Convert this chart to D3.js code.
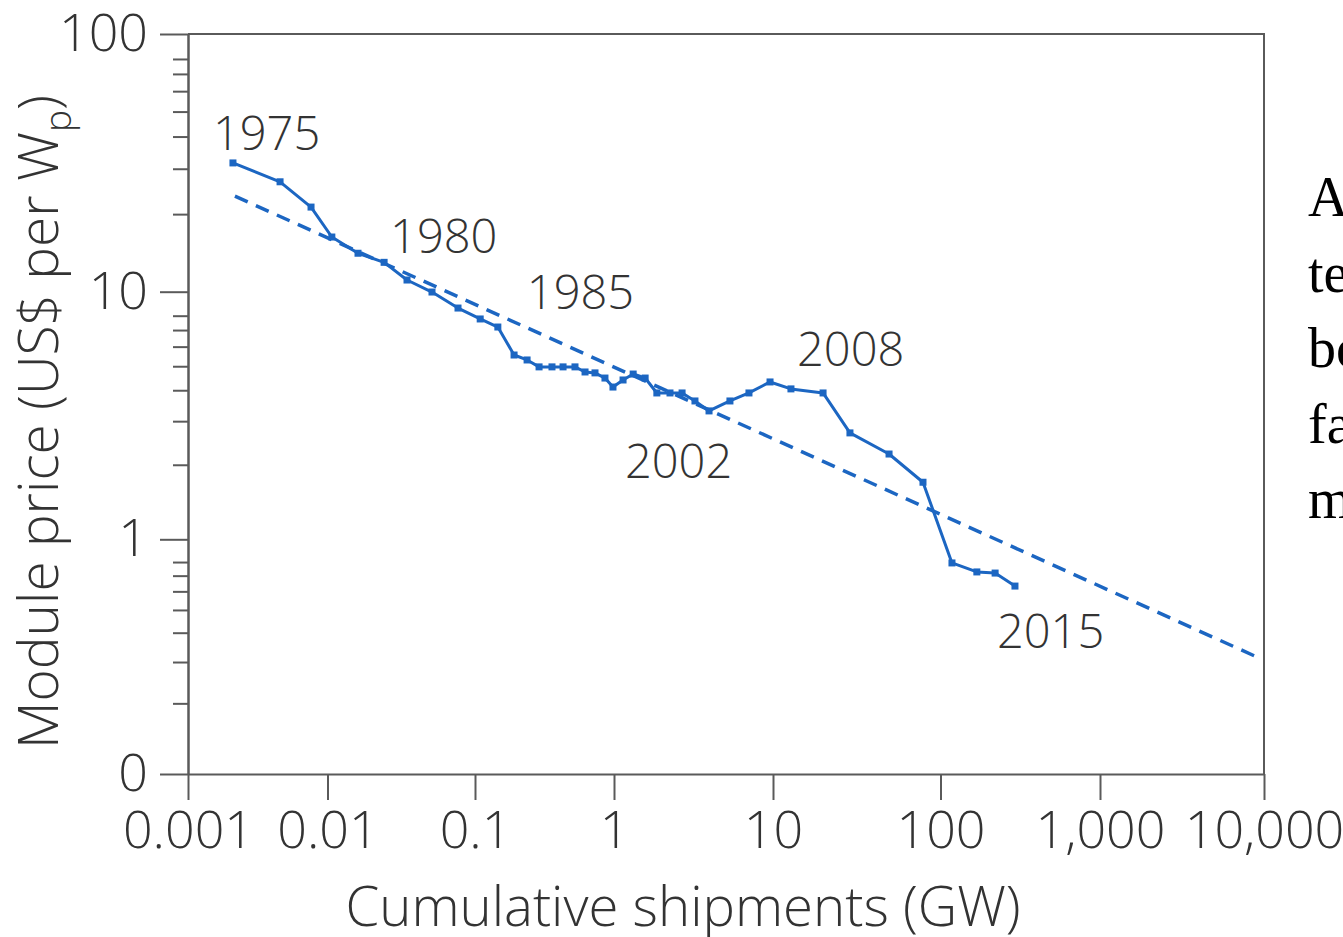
<!DOCTYPE html>
<html>
<head>
<meta charset="utf-8">
<script src="https://cdn.jsdelivr.net/npm/d3@7"></script>
<style>
  body { margin: 0; background: #fff; overflow: hidden; }
  svg { display: block; }
  .sans { font-family: "Open Sans", "Noto Sans", sans-serif; font-weight: 300; fill: #333; }
</style>
</head>
<body>
<svg id="chart" width="1343" height="937"></svg>
<script>
// Module price learning curve, 1975–2015
const years = [1975, 1976, 1977, 1978, 1979, 1980, 1981, 1982, 1983, 1984,
               1985, 1986, 1987, 1988, 1989, 1990, 1991, 1992, 1993, 1994,
               1995, 1996, 1997, 1998, 1999, 2000, 2001, 2002, 2003, 2004,
               2005, 2006, 2007, 2008, 2009, 2010, 2011, 2012, 2013, 2014, 2015];
// cumulative shipments, GW
const shipments = [0.0021, 0.00457, 0.00762, 0.0107, 0.0161, 0.0242, 0.0346, 0.0511, 0.0767, 0.109,
                   0.146, 0.191, 0.237, 0.289, 0.358, 0.43, 0.524, 0.619, 0.73, 0.861,
                   0.983, 1.14, 1.32, 1.57, 1.86, 2.25, 2.68, 3.23, 3.96, 5.36,
                   7.06, 9.58, 12.8, 19.9, 28.8, 49.3, 78.6, 118, 169, 220, 293];
// module price, US$ per Wp
const price = [31.6, 26.7, 21.3, 16.3, 14.1, 13.0, 11.1, 9.97, 8.59, 7.76,
               7.20, 5.55, 5.30, 4.97, 4.97, 4.97, 4.97, 4.74, 4.70, 4.48,
               4.12, 4.40, 4.65, 4.48, 3.90, 3.90, 3.90, 3.62, 3.30, 3.62,
               3.90, 4.32, 4.05, 3.90, 2.69, 2.21, 1.70, 0.793, 0.726, 0.718, 0.632];

// fitted experience curve (end points)
const trendShipments = [0.00217, 9065];
const trendPrice = [23.5, 0.315];

// axis ticks
const xTicks = [0.001, 0.01, 0.1, 1, 10, 100, 1000, 10000];
const xTickLabels = ["0.001", "0.01", "0.1", "1", "10", "100", "1,000", "10,000"];
const yTicks = [0.1, 1, 10, 100];
const yTickLabels = ["0", "1", "10", "100"];
const yMinorTicks = [0.2, 0.3, 0.4, 0.5, 0.6, 0.7, 0.8,
                     2, 3, 4, 5, 6, 7, 8,
                     20, 30, 40, 50, 60, 70, 80];

// annotated years
const labelYears = [1975, 1980, 1985, 2002, 2008, 2015];
const labelOffsets = [[-20, -13], [6, -9], [29, -18], [-70, 77], [-26, -27], [-18, 62]];

// slide text running beside the figure
const sideLines = ["A", "te", "bo", "fa", "m"];

const svg = d3.select("#chart");
const ink = "#333";
const axisInk = "#5a5a5a";
const blue = "#1c66c2";

const x = d3.scaleLog()
  .domain(xTicks)
  .range([188, 327.5, 475, 614, 773, 940.5, 1100, 1264]);
const y = d3.scaleLog()
  .domain(yTicks)
  .range([774, 539.3, 291.7, 34]);

const plotLeft = x.range()[0], plotRight = x.range()[x.range().length - 1];
const plotBottom = y.range()[0], plotTop = y.range()[y.range().length - 1];

// frame: top and right edges
svg.append("path")
  .attr("d", `M${plotLeft},${plotTop}H${plotRight}V${plotBottom}`)
  .attr("fill", "none").attr("stroke", axisInk).attr("stroke-width", 2);

// bottom axis
svg.append("g")
  .attr("transform", `translate(0,${plotBottom})`)
  .call(d3.axisBottom(x).tickValues(xTicks)
    .tickFormat((d, i) => xTickLabels[i])
    .tickSize(26).tickSizeOuter(0).tickPadding(11));

// left axis: minor ticks then major ticks with labels
svg.append("g")
  .attr("transform", `translate(${plotLeft},0)`)
  .call(d3.axisLeft(y).tickValues(yMinorTicks).tickFormat("").tickSize(15).tickSizeOuter(0));
svg.append("g")
  .attr("transform", `translate(${plotLeft},0)`)
  .call(d3.axisLeft(y).tickValues(yTicks)
    .tickFormat((d, i) => yTickLabels[i])
    .tickSize(28).tickSizeOuter(0).tickPadding(12));

svg.selectAll(".domain, .tick line")
  .attr("stroke", axisInk).attr("stroke-width", 2);
svg.selectAll(".tick text")
  .attr("class", "sans")
  .style("font-size", "52px").attr("fill", ink);

// axis titles
svg.append("text")
  .attr("class", "sans")
  .attr("x", 683).attr("y", 926)
  .attr("text-anchor", "middle")
  .style("font-size", "54.5px")
  .text("Cumulative shipments (GW)");

const yTitle = svg.append("text")
  .attr("class", "sans")
  .attr("transform", `translate(58,${(plotTop + plotBottom) / 2 + 18}) rotate(-90)`)
  .attr("text-anchor", "middle")
  .style("font-size", "55px");
yTitle.append("tspan").text("Module price (US$ per W");
yTitle.append("tspan").attr("dy", 13).style("font-size", "37px").text("p");
yTitle.append("tspan").attr("dy", -13).text(")");

// experience-curve fit
svg.append("line")
  .attr("x1", x(trendShipments[0])).attr("y1", y(trendPrice[0]))
  .attr("x2", x(trendShipments[1])).attr("y2", y(trendPrice[1]))
  .attr("stroke", blue).attr("stroke-width", 3.5)
  .attr("stroke-dasharray", "14,9");

// price series
const pts = years.map((yr, i) => ({ yr, s: shipments[i], p: price[i] }));
svg.append("path")
  .datum(pts)
  .attr("fill", "none").attr("stroke", blue).attr("stroke-width", 3)
  .attr("stroke-linejoin", "round")
  .attr("d", d3.line().x(d => x(d.s)).y(d => y(d.p)));

svg.append("g").selectAll("rect")
  .data(pts).join("rect")
  .attr("x", d => x(d.s) - 3.5).attr("y", d => y(d.p) - 3.5)
  .attr("width", 7).attr("height", 7)
  .attr("fill", blue);

// year annotations
svg.append("g").selectAll("text")
  .data(labelYears).join("text")
  .attr("class", "sans")
  .attr("x", (yr, i) => x(shipments[years.indexOf(yr)]) + labelOffsets[i][0])
  .attr("y", (yr, i) => y(price[years.indexOf(yr)]) + labelOffsets[i][1])
  .style("font-size", "47px")
  .text(d => d);

// side text (continues past the page edge)
svg.append("g").selectAll("text")
  .data(sideLines).join("text")
  .attr("x", 1308)
  .attr("y", (d, i) => 216 + i * 75.5)
  .style("font-family", "'Liberation Serif', 'Times New Roman', serif")
  .style("font-size", "56px")
  .attr("fill", "#000")
  .text(d => d);
</script>
</body>
</html>
